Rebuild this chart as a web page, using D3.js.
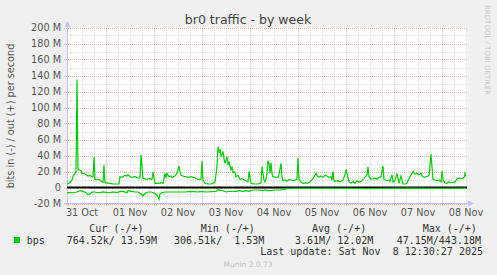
<!DOCTYPE html>
<html>
<head>
<meta charset="utf-8">
<script src="https://cdn.jsdelivr.net/npm/d3@7"></script>
<style>
  body { margin: 0; background: #f0f0f0; }
  svg { display: block; font-family: "DejaVu Sans", sans-serif; }
  .mono { font-family: "DejaVu Sans Mono", monospace; font-size: 10px; fill: #333; }
</style>
</head>
<body>
<div id="chart"></div>
<script>
// hours after the graph start (Oct 31 04:30), Mbit/s
var outHours = [0,1.5,2.5,3,4,4.5,5,5.5,7,7.5,8.5,9.5,10.5,11.5,12.5,13,13.5,14,15,16.5,17,18,18.5,19,21.5,23,25,26,26.5,27.5,29,30,30.5,32,34,35.5,36.5,37,38,39.5,41.5,42,42.5,43,44,45.5,47,48,49,49.5,50,51,52,52.5,54,55,56,56.5,57,59,60.5,62,64,65.5,67,67.5,68,69,70.5,72,73,74,75,75.5,76,76.5,77,78,78.5,79,80,80.5,81,82,82.5,83,84,84.5,85.5,86.5,87.5,88.5,89.5,90.5,91,92,93.5,95.5,96.5,97,97.5,98.5,99,99.5,100,100.5,101,101.5,102,102.5,103,104.5,105.5,106,107,107.5,108,109,110,111,112,113.5,115,115.5,116,117,118,119.5,120,121.5,123,124.5,125,126,127,128,129,130,131,132,132.5,133,133.5,134,135.5,136.5,138,139,139.5,140,141,142,143,144,145,146,147,148,149,150,150.5,151,152,153,154,155,156,157,158,158.5,160,161,161.5,162.5,163,164,165,166,167,168,169,170,170.5,171.5,172,173,174,175,176,177,177.5,178.5,179.5,180.5,181,181.5,182,182.5,183,184,185,186,187,187.5,188,189,190,191,192,193,194,195,196,197,198,198.5,199,199.5];
var outValues = [4.4,6,9.4,14.4,17.7,19.4,135,22.7,21,17.7,17.7,16,14.4,15.2,13.5,13.5,38,10.2,10.2,9.4,7.7,6.5,28,6,5.2,4.4,4.4,4.6,13.5,12.7,15.2,14.4,16,12.7,13.5,11.9,12,41,11.9,10.2,11,10.2,10.2,19.4,5.2,5.2,6,5.2,17.7,11.9,17.7,13.5,14.4,12.7,14.4,17.7,26.9,19.4,15.2,13.5,12.7,13.5,11.9,10,10,33.5,9.4,5.2,4.4,4.4,5.2,6.9,26,51,44.4,46.9,38.5,45.2,36,30.2,38.5,28.5,31.9,21.9,26,18.5,19.4,13.5,15.2,10.2,11,9.4,8.5,6.9,20.2,5.2,4.4,4.4,5.2,6,26,9.4,7,10.2,17.7,33.5,30.2,17.7,31,17.7,13.5,12.7,12.7,16,30.2,12.7,8.5,9.4,7.7,10.2,9.4,8.5,10.2,36.9,10.2,6.9,5.2,6,5.2,6.9,11,17.7,15.2,12.7,14.4,12.7,15.2,14.4,12.7,13.5,9.4,20.2,8.5,7.7,8.5,6.9,9.4,16,22.7,17.7,6.9,5.2,7.7,5.2,8.5,6.9,7.7,10.2,12.7,16,26,13.5,10.2,11,11.9,10.2,12.7,13.5,26.9,10.2,8.5,9.4,7.7,16,6.9,8.5,17.7,5.2,14.4,4.4,4.4,5.2,8.5,13.5,16,20.2,16.9,17.7,16,17.7,14.4,12.7,13.5,14.4,15.2,26.9,41.9,26,10.2,9.4,8.5,9.4,6.9,21,9.4,6,5.2,6.9,6,6,6.9,11,11.9,11,11.9,12.7,17.7,13.6];

var inHours = [0,3,5,6.5,8,9.5,10.5,11.5,12.5,14,15,16.5,18,20,21.5,23,25,26.5,28,30,30.5,32,34,35.5,37,38,39,40.5,42,44,45,46,46.5,47.5,49,52,55.5,59,62,65.5,67,69.5,74.5,75.5,78,79.5,81,84.5,86,88,89.5,91,93,96,98,99.5,100,102,103.5,107,108.5,110,111.5,120,130,140,150,160,170,180,185,190,199.5];
var inValues = [-6.5,-6.5,-5.6,-4,-4.8,-6.5,-9,-8.1,-5.6,-5.6,-6.5,-6.5,-5.6,-6.5,-6.5,-5.6,-6.5,-4.8,-4.8,-6.5,-4,-4.8,-5.6,-5.6,-8.1,-10.6,-7.3,-5.6,-5.6,-7.3,-9.8,-14.8,-8.1,-6.5,-5.6,-5.6,-5.6,-5.6,-4.8,-5.6,-4.8,-5.6,-4.8,-3.1,-4,-5.6,-4.8,-4.8,-4,-4.8,-4,-4.8,-3.1,-3.1,-4,-3.1,-4,-4,-3.1,-3.1,-2.3,-1.5,-1.2,-1.1,-1.0,-1.2,-1.3,-1.1,-0.9,-1.1,-1.2,-1.0,-0.76];

var yTicks = [-20,0,20,40,60,80,100,120,140,160,180,200];
var legendHeads = ["Cur (-/+)", "Min (-/+)", "Avg (-/+)", "Max (-/+)"];
var legendVals = ["764.52k/ 13.59M", "306.51k/  1.53M", "  3.61M/ 12.02M", " 47.15M/443.18M"];

var W = 497, H = 275;
var start = Date.UTC(2025, 9, 31, 4, 30);
var end = Date.UTC(2025, 10, 8, 12, 30);

var svg = d3.select("#chart").append("svg")
    .attr("width", W).attr("height", H);

svg.append("rect").attr("width", W).attr("height", H).attr("fill", "#f0f0f0");

var x = d3.scaleTime().domain([new Date(start), new Date(end)]).range([67, 467]);
var y = d3.scaleLinear().domain([-20, 200]).range([203.5, 27.5]);

// plot background
svg.append("rect")
    .attr("x", 67).attr("y", 27.5)
    .attr("width", 400).attr("height", 176)
    .attr("fill", "#ffffff");

var grid = svg.append("g");
var minorCol = "#dadada", majorCol = "#eab4b4";

// minor grid
d3.range(-20, 201, 10).forEach(function(v) {
    if (v % 20 == 0) return;
    grid.append("line")
        .attr("x1", 67).attr("x2", 467)
        .attr("y1", Math.round(y(v)) + 0.5).attr("y2", Math.round(y(v)) + 0.5)
        .attr("stroke", minorCol).attr("stroke-dasharray", "1,1");
});
d3.utcHour.every(6).range(new Date(start), new Date(end)).forEach(function(t) {
    if (t.getUTCHours() == 0) return;
    var px = Math.round(x(t)) + 0.5;
    grid.append("line")
        .attr("x1", px).attr("x2", px)
        .attr("y1", 27.5).attr("y2", 203.5)
        .attr("stroke", minorCol).attr("stroke-dasharray", "1,1");
});

// major grid
yTicks.forEach(function(v) {
    grid.append("line")
        .attr("x1", 64).attr("x2", 467)
        .attr("y1", Math.round(y(v)) + 0.5).attr("y2", Math.round(y(v)) + 0.5)
        .attr("stroke", majorCol).attr("stroke-dasharray", "1,1");
});
d3.utcDay.range(new Date(start), new Date(end)).forEach(function(t) {
    var px = Math.round(x(t)) + 0.5;
    grid.append("line")
        .attr("x1", px).attr("x2", px)
        .attr("y1", 27.5).attr("y2", 206)
        .attr("stroke", majorCol).attr("stroke-dasharray", "1,1");
});

// axes lines with arrows
var axisCol = "#c4c4f2";
svg.append("line").attr("x1", 67.5).attr("x2", 67.5).attr("y1", 206).attr("y2", 22)
    .attr("stroke", axisCol);
svg.append("path").attr("d", "M64.5,27 L70.5,27 L67.5,21 Z").attr("fill", axisCol);
svg.append("line").attr("x1", 64).attr("x2", 471).attr("y1", 203.5).attr("y2", 203.5)
    .attr("stroke", axisCol);
svg.append("path").attr("d", "M468,200.5 L468,206.5 L474,203.5 Z").attr("fill", axisCol);

// y tick labels
svg.append("g").selectAll("text")
    .data(yTicks).enter().append("text")
    .attr("x", 61).attr("y", function(d) { return y(d) + 3.5; })
    .attr("text-anchor", "end")
    .attr("font-size", "9.7px")
    .attr("fill", "#555")
    .text(function(d) { return d == 0 ? "0" : d + " M"; });

// x tick labels at noon
var fmt = d3.utcFormat("%d %b");
var noons = d3.utcDay.range(new Date(start - 86400000), new Date(end))
    .map(function(t) { return new Date(+t + 12 * 3600000); })
    .filter(function(t) { return t >= start && t <= end + 3600000; });
svg.append("g").selectAll("text")
    .data(noons).enter().append("text")
    .attr("x", function(d) { return x(d); })
    .attr("y", 216)
    .attr("text-anchor", "middle")
    .attr("font-size", "9.7px")
    .attr("fill", "#555")
    .text(function(d) { return fmt(d); });

// series
function toPoints(hours, vals) {
    return hours.map(function(h, i) { return {t: new Date(start + h * 3600000), v: vals[i]}; });
}
var line = d3.line()
    .x(function(d) { return x(d.t); })
    .y(function(d) { return y(d.v); });

svg.append("line").attr("x1", 67).attr("x2", 467)
    .attr("y1", y(0)).attr("y2", y(0))
    .attr("stroke", "#000").attr("stroke-width", 2);

svg.append("path").datum(toPoints(inHours, inValues))
    .attr("d", line).attr("fill", "none")
    .attr("stroke", "#00cc00").attr("stroke-width", 1.2);
svg.append("path").datum(toPoints(outHours, outValues))
    .attr("d", line).attr("fill", "none")
    .attr("stroke", "#00cc00").attr("stroke-width", 1.2);

// title
svg.append("text")
    .attr("x", 248).attr("y", 23.5)
    .attr("text-anchor", "middle")
    .attr("font-size", "12.5px")
    .attr("fill", "#444")
    .text("br0 traffic - by week");

// y label
svg.append("text")
    .attr("transform", "translate(13.5,116) rotate(-90)")
    .attr("text-anchor", "middle")
    .attr("font-size", "9.7px")
    .attr("fill", "#555")
    .text("bits in (-) / out (+) per second");

// watermark
svg.append("text")
    .attr("transform", "translate(484.5,5) rotate(90)")
    .attr("font-size", "7px")
    .attr("fill", "#c8c8c8")
    .text("RRDTOOL / TOBI OETIKER");

// legend
var headX = [89.3, 200.7, 312, 422.7];
var valX = [66.7, 174, 283, 390.7];
svg.append("g").selectAll("text")
    .data(legendHeads).enter().append("text")
    .attr("class", "mono")
    .attr("x", function(d, i) { return headX[i]; })
    .attr("y", 231.5)
    .text(function(d) { return d; });
svg.append("g").selectAll("text")
    .data(legendVals).enter().append("text")
    .attr("class", "mono")
    .attr("x", function(d, i) { return valX[i]; })
    .attr("y", 243.5)
    .style("white-space", "pre")
    .text(function(d) { return d; });

svg.append("rect").attr("x", 14).attr("y", 237).attr("width", 6).attr("height", 6)
    .attr("fill", "#00cc00");
svg.append("text").attr("class", "mono").attr("x", 26.7).attr("y", 243.5).text("bps");

svg.append("text").attr("class", "mono")
    .attr("x", 483).attr("y", 255)
    .attr("text-anchor", "end")
    .style("white-space", "pre")
    .text("Last update: Sat Nov  8 12:30:27 2025");

svg.append("text")
    .attr("x", 248).attr("y", 267)
    .attr("text-anchor", "middle")
    .attr("font-size", "7.5px")
    .attr("fill", "#c0c0c0")
    .text("Munin 2.0.73");
</script>
</body>
</html>
